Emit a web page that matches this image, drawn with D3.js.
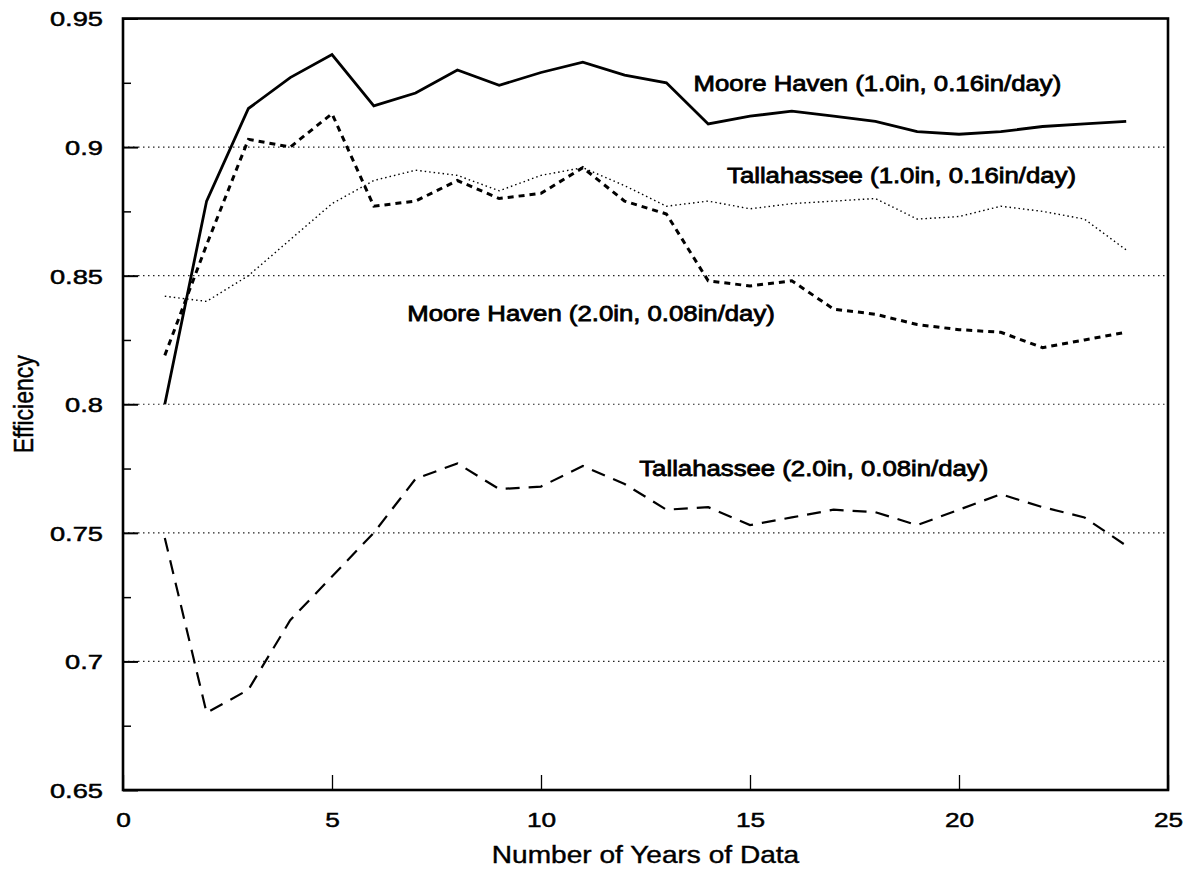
<!DOCTYPE html>
<html>
<head>
<meta charset="utf-8">
<script src="https://cdnjs.cloudflare.com/ajax/libs/d3/7.8.5/d3.min.js"></script>
<style>
  body { margin: 0; background: #fff; }
  text { font-family: "Liberation Sans", Arial, sans-serif; fill: #000; }
</style>
</head>
<body>
<div id="viz_area"></div>
<script>
// data
var years = [1, 2, 3, 4, 5, 6, 7, 8, 9, 10, 11, 12, 13, 14, 15, 16, 17, 18, 19, 20, 21, 22, 23, 24];
var mooreHaven1 = [0.800, 0.879, 0.915, 0.927, 0.936, 0.916, 0.921, 0.930, 0.924, 0.929, 0.933, 0.928,
                   0.925, 0.909, 0.912, 0.914, 0.912, 0.910, 0.906, 0.905, 0.906, 0.908, 0.909, 0.910];
var tallahassee1 = [0.842, 0.840, 0.850, 0.864, 0.878, 0.887, 0.891, 0.889, 0.883, 0.889, 0.892, 0.885,
                    0.877, 0.879, 0.876, 0.878, 0.879, 0.880, 0.872, 0.873, 0.877, 0.875, 0.872, 0.860];
var mooreHaven2 = [0.819, 0.862, 0.903, 0.900, 0.913, 0.877, 0.879, 0.887, 0.880, 0.882, 0.892, 0.879,
                   0.874, 0.848, 0.846, 0.848, 0.837, 0.835, 0.831, 0.829, 0.828, 0.822, 0.825, 0.828];
var tallahassee2 = [0.748, 0.680, 0.689, 0.716, 0.733, 0.750, 0.771, 0.777, 0.767, 0.768, 0.776, 0.769,
                    0.759, 0.760, 0.753, 0.756, 0.759, 0.758, 0.753, 0.759, 0.765, 0.760, 0.756, 0.745];

var seriesNames = ["Moore Haven (1.0in, 0.16in/day)", "Tallahassee (1.0in, 0.16in/day)",
                   "Moore Haven (2.0in, 0.08in/day)", "Tallahassee (2.0in, 0.08in/day)"];
var xTicks = [0, 5, 10, 15, 20, 25];
var yTicks = [0.65, 0.7, 0.75, 0.8, 0.85, 0.9, 0.95];
var yMinorTicks = [0.675, 0.725, 0.775, 0.825, 0.875, 0.925];
var gridValues = [0.7, 0.75, 0.8, 0.85, 0.9];

function __init__() {
    lineChart();
}

function lineChart() {
    var w = 1201;
    var h = 871;
    var sx = 1.17;     // the scan is stretched sideways, so text is too
    var sxTick = 1.3;  // tick numbers come out a bit wider still

    var x = d3.scaleLinear().domain([0, 25]).range([123, 1168]);
    var y = d3.scaleLinear().domain([0.65, 0.95]).range([790, 18.5]);

    var svg = d3.select("#viz_area")
                .append("svg")
                .attr("width", w)
                .attr("height", h);

    svg.append("rect").attr("width", w).attr("height", h).attr("fill", "#fff");

    // dotted grid
    svg.selectAll("line.grid")
       .data(gridValues)
       .enter()
       .append("line")
       .attr("class", "grid")
       .attr("x1", x(0)).attr("x2", x(25))
       .attr("y1", (d) => y(d)).attr("y2", (d) => y(d))
       .style("stroke", "#222")
       .style("stroke-width", 1.2)
       .style("stroke-dasharray", "1.5,3.5");

    // axes, ticks point inward
    var yAxis = svg.append("g")
                   .attr("transform", "translate(" + x(0) + ",0)")
                   .call(d3.axisLeft(y).tickValues(yTicks)
                           .tickFormat((d) => String(d))
                           .tickSizeInner(-15).tickSizeOuter(0).tickPadding(20));
    yAxis.select(".domain").remove();
    yAxis.selectAll("line").style("stroke-width", 2);
    yAxis.selectAll("text")
         .attr("x", -20 / sxTick)
         .attr("dy", "0.35em")
         .attr("transform", "scale(" + sxTick + ",1)")
         .style("font-size", "21px")
         .style("stroke", "#000").style("stroke-width", 0.5);

    var yMinor = svg.append("g")
                    .attr("transform", "translate(" + x(0) + ",0)")
                    .call(d3.axisLeft(y).tickValues(yMinorTicks).tickFormat("")
                            .tickSizeInner(-8).tickSizeOuter(0));
    yMinor.select(".domain").remove();
    yMinor.selectAll("line").style("stroke-width", 1.5);

    var xAxis = svg.append("g")
                   .attr("transform", "translate(0," + y(0.65) + ")")
                   .call(d3.axisBottom(x).tickValues(xTicks)
                           .tickSizeInner(-15).tickSizeOuter(0).tickPadding(16));
    xAxis.select(".domain").remove();
    xAxis.selectAll("line").style("stroke-width", 1.3);
    xAxis.selectAll("text")
         .attr("x", 0)
         .attr("y", 22)
         .attr("dy", "0.71em")
         .attr("transform", "scale(" + (sxTick - 0.05) + ",1)")
         .style("font-size", "21px")
         .style("stroke", "#000").style("stroke-width", 0.5);

    // frame
    svg.append("rect")
       .attr("x", x(0)).attr("y", y(0.95))
       .attr("width", x(25) - x(0)).attr("height", y(0.65) - y(0.95))
       .attr("fill", "none")
       .style("stroke", "#000")
       .style("stroke-width", 2.6);

    // series
    var series = [
        { name: seriesNames[0], values: mooreHaven1, dash: null, width: 2.8 },
        { name: seriesNames[1], values: tallahassee1, dash: "1.5,3", width: 1.4 },
        { name: seriesNames[2], values: mooreHaven2, dash: "6,5", width: 3 },
        { name: seriesNames[3], values: tallahassee2, dash: "14,9", width: 2.2 }
    ];

    var line = d3.line()
                 .x((d, i) => x(years[i]))
                 .y((d) => y(d));

    svg.selectAll("path.series")
       .data(series)
       .enter()
       .append("path")
       .attr("class", "series")
       .attr("d", (d) => line(d.values))
       .attr("fill", "none")
       .style("stroke", "#000")
       .style("stroke-width", (d) => d.width)
       .style("stroke-dasharray", (d) => d.dash);

    // curve labels, placed in data units
    var labelX = [13.65, 14.45, 6.8, 12.35];
    var labelY = [0.922, 0.886, 0.8325, 0.772];
    svg.selectAll("text.lab")
       .data(seriesNames)
       .enter()
       .append("text")
       .attr("class", "lab")
       .attr("transform", (d, i) => "translate(" + x(labelX[i]) + "," + y(labelY[i]) + ") scale(" + sx + ",1)")
       .text((d) => d)
       .style("font-size", "22px")
       .style("stroke", "#000").style("stroke-width", 0.8);

    // axis titles
    svg.append("text")
       .attr("transform", "translate(" + ((x(0) + x(25)) / 2) + ",863) scale(" + sx + ",1)")
       .attr("text-anchor", "middle")
       .text("Number of Years of Data")
       .style("font-size", "24px")
       .style("stroke", "#000").style("stroke-width", 0.4);

    svg.append("text")
       .attr("transform", "translate(33," + ((y(0.65) + y(0.95)) / 2) + ") scale(" + sx + ",1) rotate(-90)")
       .attr("text-anchor", "middle")
       .text("Efficiency")
       .style("font-size", "23px")
       .style("stroke", "#000").style("stroke-width", 0.4);
}

window.onload = __init__;
</script>
</body>
</html>
